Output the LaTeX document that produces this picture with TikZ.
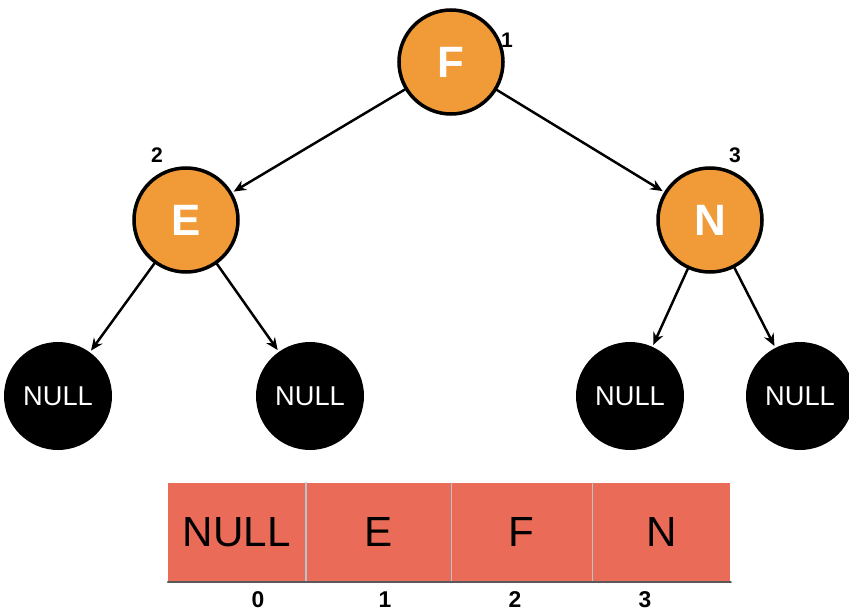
\documentclass[tikz,border=0pt]{standalone}
\usepackage{fontspec}
\setmainfont{Liberation Sans}
\usetikzlibrary{arrows.meta}
\definecolor{keyorange}{HTML}{F09B38}
\definecolor{cellred}{HTML}{EA6B57}
\definecolor{celledge}{HTML}{B8C4CC}

\begin{document}
\begin{tikzpicture}[x=.02cm,y=-.02cm,line cap=round,line join=round,
  key/.style={circle,draw=black,line width=2pt,fill=keyorange,
    minimum size=104*.02cm,inner sep=0pt,text=white,
    font=\fontsize{25}{28}\selectfont\bfseries},
  leaf/.style={circle,fill=black,minimum size=108*.02cm,inner sep=0pt,
    text=white,font=\fontsize{15.5}{18}\selectfont},
  edge/.style={-{Stealth[length=7pt,width=6pt]},line width=1.4pt,shorten >=1pt},
  cell/.style={fill=cellred,minimum height=98*.02cm,inner sep=0pt,
    font=\fontsize{24}{28}\selectfont},
  idx/.style={font=\fontsize{13}{15}\selectfont\bfseries},
  num/.style={font=\fontsize{12}{14}\selectfont\bfseries}]
  \path[use as bounding box] (0,0) rectangle (849,615);
  % tree
  \node[key] (F) at (451,62) {F};
  \node[key] (E) at (186,220) {E};
  \node[key] (N) at (710,220) {N};
  \node[leaf] (L1) at (58,396) {NULL};
  \node[leaf] (L2) at (310,396) {NULL};
  \node[leaf] (L3) at (630,396) {NULL};
  \node[leaf] (L4) at (800,396) {NULL};
  \node[num] at (507,40) {1};
  \node[num] at (157,155) {2};
  \node[num] at (735,155) {3};
  \draw[edge] (F) -- (E);
  \draw[edge] (F) -- (N);
  \draw[edge] (E) -- (L1);
  \draw[edge] (E) -- (L2);
  \draw[edge] (N) -- (L3);
  \draw[edge] (N) -- (L4);
  % array
  \node[cell,minimum width=137*.02cm,anchor=north west] (A0) at (168,483) {NULL};
  \node[cell,minimum width=145*.02cm,anchor=north west] (A1) at (A0.north east) {E};
  \node[cell,minimum width=140*.02cm,anchor=north west] (A2) at (A1.north east) {F};
  \node[cell,minimum width=138*.02cm,anchor=north west] (A3) at (A2.north east) {N};
  \draw[celledge,line width=1.2pt] (A0.north east) -- (A0.south east);
  \draw[celledge,line width=.6pt] (A1.north east) -- (A1.south east);
  \draw[celledge,line width=.6pt] (A2.north east) -- (A2.south east);
  \draw[black!65,line width=1.2pt] (A0.south west) -- (A3.south east);
  \node[idx] at (258,600) {0};
  \node[idx] at (385,600) {1};
  \node[idx] at (515,600) {2};
  \node[idx] at (645,600) {3};
\end{tikzpicture}
\end{document}
